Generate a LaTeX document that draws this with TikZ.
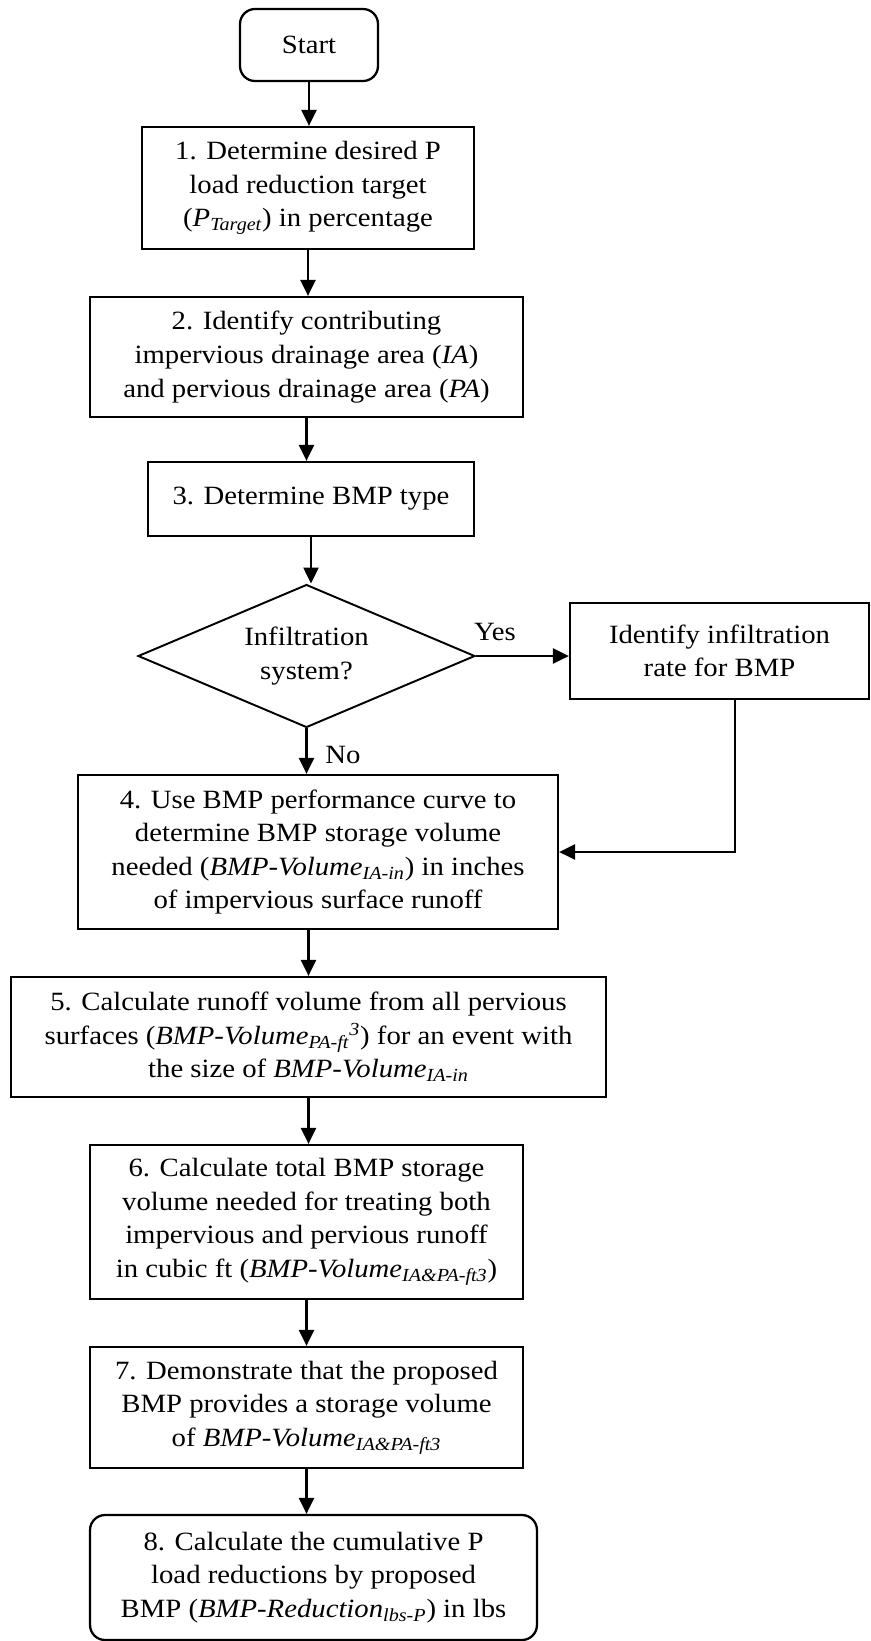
\documentclass[tikz,border=0pt]{standalone}
\usepackage{fontspec}
\setmainfont{Liberation Serif}[FakeStretch=1.09]
\usepackage{xcolor}
\usepackage{tikz}
\usetikzlibrary{shapes.geometric, arrows.meta, positioning, calc}

\begin{document}
\begin{tikzpicture}[
  x=0.02cm, y=-0.02cm,
  sq/.style={
    rectangle, draw=black, fill=white,
    align=center, font=\fontsize{15}{19.1}\selectfont,
    line width=1.3pt, inner sep=2pt
  },
  fin/.style={sq, rounded corners=0.3cm},
  dec/.style={
    diamond, draw=black, fill=white, shape aspect=2.36,
    minimum width=6.74cm, minimum height=2.86cm,
    align=center, font=\fontsize{15}{19.1}\selectfont,
    line width=1.1pt, inner sep=1pt
  },
  lbl/.style={font=\fontsize{15}{19.1}\selectfont},
  arr/.style={-{Triangle[length=0.32cm, width=0.3cm]}, draw=black, line width=1.3pt}
]

\useasboundingbox (0,0) rectangle (870,1641);

% ── Main column ───────────────────────────────────────────────
\node[fin, minimum width=2.76cm, minimum height=1.44cm] (start) at (309, 45) {Start};

\node[sq, minimum width=6.64cm, minimum height=2.44cm] (b1) at (308, 188)
  {1. Determine desired P\\ load reduction target\\
   (\textit{P\textsubscript{Target}}) in percentage};

\node[sq, minimum width=8.66cm, minimum height=2.4cm] (b2) at (306.5, 357)
  {2. Identify contributing\\ impervious drainage area (\textit{IA})\\
   and pervious drainage area (\textit{PA})};

\node[sq, minimum width=6.52cm, minimum height=1.48cm] (b3) at (311, 499)
  {3. Determine BMP type};

\node[dec] (dia) at (306.5, 656) {Infiltration\\ system?};

\node[sq, minimum width=9.6cm, minimum height=3.08cm] (b4) at (318, 852)
  {4. Use BMP performance curve to\\ determine BMP storage volume\\
   needed (\textit{BMP-Volume\textsubscript{IA-in}}) in inches\\
   of impervious surface runoff};

\node[sq, minimum width=11.9cm, minimum height=2.4cm] (b5) at (308.5, 1037)
  {5. Calculate runoff volume from all pervious\\
   surfaces (\textit{BMP-Volume\textsubscript{PA-ft}\textsuperscript{3}}) for an event with\\
   the size of \textit{BMP-Volume\textsubscript{IA-in}}};

\node[sq, minimum width=8.66cm, minimum height=3.08cm] (b6) at (306.5, 1222)
  {6. Calculate total BMP storage\\ volume needed for treating both\\
   impervious and pervious runoff\\
   in cubic ft (\textit{BMP-Volume\textsubscript{IA\&PA-ft3}})};

\node[sq, minimum width=8.66cm, minimum height=2.42cm] (b7) at (306.5, 1407.5)
  {7. Demonstrate that the proposed\\ BMP provides a storage volume\\
   of \textit{BMP-Volume\textsubscript{IA\&PA-ft3}}};

\node[fin, minimum width=8.94cm, minimum height=2.5cm] (b8) at (313.5, 1577.5)
  {8. Calculate the cumulative P\\ load reductions by proposed\\
   BMP (\textit{BMP-Reduction\textsubscript{lbs-P}}) in lbs};

% ── Side branch ───────────────────────────────────────────────
\node[sq, minimum width=5.98cm, minimum height=1.92cm] (yes) at (719.5, 651)
  {Identify infiltration\\ rate for BMP};

\node[lbl] (yeslbl) at (495, 632) {Yes};
\node[lbl] (nolbl)  at (343, 755) {No};

% ── Arrows ────────────────────────────────────────────────────
\draw[arr] (start.south) -- (start.south |- b1.north);
\draw[arr] (b1.south) -- (b1.south |- b2.north);
\draw[arr] (b2.south) -- (b2.south |- b3.north);
\draw[arr] (b3.south) -- (b3.south |- dia.north);

% Yes: to the right, then back down into step 4
\draw[arr] (dia.east) -- (dia.east -| yes.west);
\draw[arr] ([xshift=0.31cm]yes.south) |- (b4.east);

% No: straight down
\draw[arr] (dia.south) -- (dia.south |- b4.north);

\draw[arr] (b4.south -| b5.north) -- (b5.north);
\draw[arr] (b5.south) -- (b5.south |- b6.north);
\draw[arr] (b6.south) -- (b6.south |- b7.north);
\draw[arr] (b7.south) -- (b7.south |- b8.north);

\end{tikzpicture}
\end{document}
